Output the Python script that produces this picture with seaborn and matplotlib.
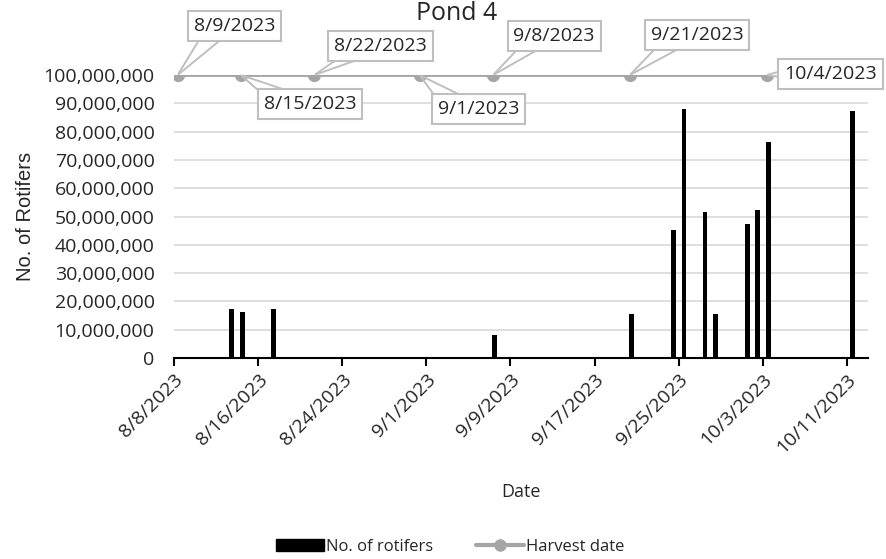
import matplotlib
matplotlib.use("Agg")
import numpy as np
import pandas as pd
import seaborn as sns
import matplotlib.pyplot as plt
import matplotlib.dates as mdates
from matplotlib.ticker import FuncFormatter, FixedLocator
from matplotlib.patches import Patch
from matplotlib.lines import Line2D

# ---------------- data ----------------
sample_dates = ["2023-08-13", "2023-08-14", "2023-08-17", "2023-09-07", "2023-09-20",
                "2023-09-24", "2023-09-25", "2023-09-27", "2023-09-28", "2023-10-01",
                "2023-10-02", "2023-10-03", "2023-10-11"]
rotifers = [17_300_000, 16_400_000, 17_300_000, 8_100_000, 15_700_000,
            45_300_000, 88_000_000, 51_700_000, 15_700_000, 47_300_000,
            52_200_000, 76_500_000, 87_300_000]

harvest_dates = ["2023-08-09", "2023-08-15", "2023-08-22", "2023-09-01",
                 "2023-09-08", "2023-09-21", "2023-10-04"]
harvest_level = [100_000_000] * len(harvest_dates)
harvest_labels = ["8/9/2023", "8/15/2023", "8/22/2023", "9/1/2023",
                  "9/8/2023", "9/21/2023", "10/4/2023"]

x_tick_dates = ["2023-08-08", "2023-08-16", "2023-08-24", "2023-09-01", "2023-09-09",
                "2023-09-17", "2023-09-25", "2023-10-03", "2023-10-11"]
y_ticks = [0, 10_000_000, 20_000_000, 30_000_000, 40_000_000, 50_000_000,
           60_000_000, 70_000_000, 80_000_000, 90_000_000, 100_000_000]
x_start, x_end = "2023-08-08", "2023-10-13"

title = "Pond 4"
x_label = "Date"
y_label = "No. of Rotifers"
bar_label = "No. of rotifers"
line_label = "Harvest date"

# ---------------- style ----------------
sns.set_theme(style="white")
plt.rcParams["font.family"] = ["Open Sans", "DejaVu Sans"]

GRAY = "#A5A5A5"
GRID = "#D9D9D9"
BOX = "#BFBFBF"
TXT = "#262626"

fig = plt.figure(figsize=(8.87, 5.59), dpi=100)
W, H = 887, 559
left, right, top, bottom = 174, 868, 75, 358
ax = fig.add_axes([left / W, 1 - bottom / H, (right - left) / W, (bottom - top) / H])

# bars: Excel date axis centres each day's column in the middle of its day slot
day_half = 0.5
bar_x = mdates.date2num(pd.to_datetime(sample_dates)) + day_half
df = pd.DataFrame({"x": bar_x, "count": rotifers})
sns.barplot(data=df, x="x", y="count", native_scale=True, color="black",
            saturation=1, width=0.47, linewidth=0, ax=ax, zorder=3)

x0 = mdates.date2num(pd.Timestamp(x_start))
x1 = mdates.date2num(pd.Timestamp(x_end))
ax.set_xlim(x0, x1)
ax.set_ylim(0, 100_000_000)

ax.yaxis.set_major_locator(FixedLocator(y_ticks))
ax.yaxis.set_major_formatter(FuncFormatter(lambda v, p: f"{int(v):,}"))
ax.grid(axis="y", color=GRID, lw=1.2, zorder=0)
ax.set_axisbelow(True)

ticks_num = mdates.date2num(pd.to_datetime(x_tick_dates))
ax.xaxis.set_major_locator(FixedLocator(ticks_num))


def fmt_date(v, p):
    d = mdates.num2date(v)
    return f"{d.month}/{d.day}/{d.year}"


ax.xaxis.set_major_formatter(FuncFormatter(fmt_date))
for lab in ax.get_xticklabels():
    lab.set_rotation(45)
    lab.set_ha("right")
    lab.set_rotation_mode("anchor")
ax.tick_params(axis="x", length=6, width=1.5, color="black", direction="out",
               labelsize=14, labelcolor=TXT, pad=3, bottom=True)
ax.tick_params(axis="y", length=0, labelsize=14, labelcolor=TXT, pad=14)

for s in ["top", "right", "left"]:
    ax.spines[s].set_visible(False)
ax.spines["bottom"].set_color("black")
ax.spines["bottom"].set_linewidth(1.5)
ax.spines["bottom"].set_zorder(4)

ax.set_xlabel(x_label, fontsize=13, color=TXT)
ax.xaxis.set_label_coords(0.5, -0.44)
ax.set_ylabel(y_label, fontsize=14.5, color=TXT, family=["Liberation Sans"])
ax.yaxis.set_label_coords(-0.2, 0.5)

# harvest date series on a secondary date axis (slightly offset like the original)
ax2 = ax.twiny()
shift = 0.65
ax2.set_xlim(x0 + shift, x1 + shift)
h_num = mdates.date2num(pd.to_datetime(harvest_dates))
sns.lineplot(x=h_num, y=harvest_level, ax=ax2, color=GRAY, lw=2, marker="o",
             markersize=9.5, markeredgewidth=0, markerfacecolor=GRAY, zorder=5)
ax2.set_ylim(0, 100_000_000)
ax2.set_xticks([])
ax2.set_xlabel("")
ax2.set_ylabel("")
for s in ax2.spines.values():
    s.set_visible(False)

# callouts (offsets in pixels relative to each marker); two leader lines form the pointer
offsets = [(57, 49), (69, -29), (66, 29), (59, -34), (61, 39), (67, 40), (64, 1)]
for xn, yv, lab, (dx, dy) in zip(h_num, harvest_level, harvest_labels, offsets):
    if dy > 10:
        rels = [(0.1, 0.0), (0.4, 0.0)]
    elif dy < -10:
        rels = [(0.0, 1.0), (0.4, 1.0)]
    else:
        rels = [(0.0, 0.7), (0.0, 0.3)]
    for i, rel in enumerate(rels):
        visible = i == 0
        ax2.annotate(lab, xy=(xn, yv), xytext=(dx, dy), textcoords="offset pixels",
                     ha="center", va="center", fontsize=14,
                     color=TXT if visible else "none",
                     annotation_clip=False, zorder=6 if visible else 5.5,
                     bbox=dict(boxstyle="square,pad=0.3",
                               fc="white" if visible else "none",
                               ec=BOX if visible else "none", lw=1.5),
                     arrowprops=dict(arrowstyle="-", color=BOX, lw=1.4,
                                     relpos=rel, shrinkA=0, shrinkB=1))

fig.text(457 / W, 1 - 13 / H, title, ha="center", va="center", fontsize=18,
         color=TXT)

handles = [Patch(facecolor="black", edgecolor="black"),
           Line2D([0], [0], color=GRAY, lw=3, marker="o", markersize=9,
                  markerfacecolor=GRAY, markeredgewidth=0)]
fig.legend(handles, [bar_label, line_label], loc="center", ncol=2,
           bbox_to_anchor=(450 / W, 12 / H), frameon=False, fontsize=12,
           handlelength=2.9, handletextpad=0.1, columnspacing=2.6,
           labelcolor=TXT)

fig.savefig("out.png", dpi=100)
